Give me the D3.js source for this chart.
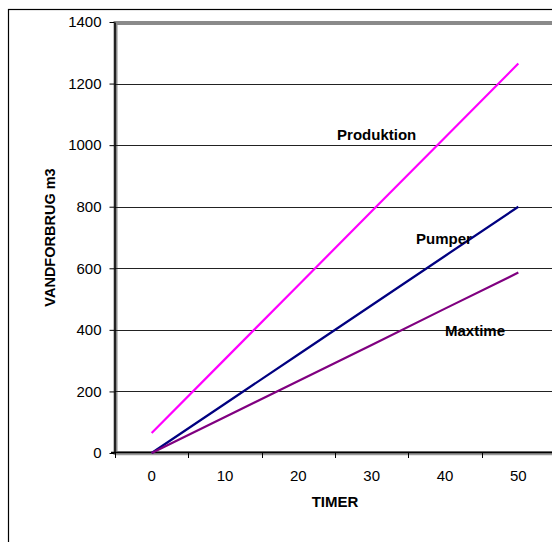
<!DOCTYPE html>
<html>
<head>
<meta charset="utf-8">
<script src="https://cdn.jsdelivr.net/npm/d3@7/dist/d3.min.js"></script>
<style>
  html, body { margin: 0; padding: 0; background: #fff; }
  svg { display: block; font-family: "Liberation Sans", Arial, sans-serif; }
</style>
</head>
<body>
<svg id="chart" width="552" height="542"></svg>
<script>
// Water consumption over hours
const hours = ["0", "10", "20", "30", "40", "50"];
const produktion = [65, 305, 545, 785, 1025, 1265];
const pumper = [0, 160, 320, 480, 640, 800];
const maxtime = [0, 117, 234, 351, 469, 586];
const yTicks = [0, 200, 400, 600, 800, 1000, 1200, 1400];

const seriesNames = ["Produktion", "Pumper", "Maxtime"];
const seriesValues = [produktion, pumper, maxtime];
const seriesColors = ["#ff00ff", "#000080", "#800080"];
// where each series name sits: a category, a value, and a small horizontal nudge
const labelPos = [
  { cat: "30", val: 1036, dx: 5 },
  { cat: "40", val: 698, dx: -1 },
  { cat: "40", val: 397, dx: 30 }
];

const svg = d3.select("#chart");
const plotLeft = 115, plotRight = 555, plotTop = 22, plotBottom = 453;
const fontSize = 15;

const x = d3.scaleBand().domain(hours).range([plotLeft, plotRight]).padding(0);
const y = d3.scaleLinear().domain([0, 1400]).range([plotBottom, plotTop]);

// outer chart frame
svg.append("rect")
  .attr("x", 8.5).attr("y", 9.5)
  .attr("width", 600).attr("height", 600)
  .attr("fill", "none").attr("stroke", "#000").attr("stroke-width", 1.2);

// plot area walls
svg.append("rect")
  .attr("x", plotLeft + 0.5).attr("y", plotTop + 1)
  .attr("width", plotRight - plotLeft).attr("height", plotBottom - plotTop - 1)
  .attr("fill", "none").attr("stroke", "#8a8a8a").attr("stroke-width", 4);

// gridlines
svg.append("g")
  .selectAll("line")
  .data(yTicks.filter(v => v > 0 && v < 1400))
  .join("line")
  .attr("x1", plotLeft).attr("x2", plotRight)
  .attr("y1", d => Math.round(y(d)) + 0.5).attr("y2", d => Math.round(y(d)) + 0.5)
  .attr("stroke", "#222").attr("stroke-width", 1);

// y axis
const yAxis = d3.axisLeft(y).tickValues(yTicks).tickFormat(d3.format("d"))
  .tickSize(5).tickSizeOuter(0).tickPadding(8);
const gy = svg.append("g").attr("transform", `translate(${plotLeft - 0.5},0)`).call(yAxis);
gy.attr("font-size", fontSize).attr("font-family", "Liberation Sans, Arial, sans-serif");
gy.select(".domain").attr("stroke", "#000").attr("stroke-width", 1.5);
gy.selectAll(".tick line").attr("stroke", "#000");
gy.selectAll(".tick text").attr("fill", "#000");

// x axis with ticks between categories
const xTickPos = hours.map(h => x(h)).concat([plotRight]);
const gx = svg.append("g");
gx.append("line")
  .attr("x1", plotLeft - 4).attr("x2", plotRight)
  .attr("y1", plotBottom - 0.5).attr("y2", plotBottom - 0.5)
  .attr("stroke", "#000").attr("stroke-width", 1.5);
gx.append("line")
  .attr("x1", plotLeft).attr("x2", plotRight)
  .attr("y1", plotBottom + 1.5).attr("y2", plotBottom + 1.5)
  .attr("stroke", "#9a9a9a").attr("stroke-width", 1.5);
gx.selectAll("line.tk")
  .data(xTickPos)
  .join("line").attr("class", "tk")
  .attr("x1", d => Math.round(d) + 0.5).attr("x2", d => Math.round(d) + 0.5)
  .attr("y1", plotBottom).attr("y2", plotBottom + 5)
  .attr("stroke", "#000");
gx.selectAll("text")
  .data(hours)
  .join("text")
  .attr("x", d => x(d) + x.bandwidth() / 2)
  .attr("y", 481)
  .attr("text-anchor", "middle")
  .attr("font-size", fontSize)
  .text(d => d);

// series lines
const line = d3.line()
  .x((d, i) => x(hours[i]) + x.bandwidth() / 2)
  .y(d => y(d));

svg.append("g")
  .selectAll("path")
  .data(seriesValues)
  .join("path")
  .attr("d", d => line(d))
  .attr("fill", "none")
  .attr("stroke", (d, i) => seriesColors[i])
  .attr("stroke-width", 2.2);

// series names
svg.append("g")
  .selectAll("text")
  .data(seriesNames)
  .join("text")
  .attr("x", (d, i) => x(labelPos[i].cat) + x.bandwidth() / 2 + labelPos[i].dx)
  .attr("y", (d, i) => y(labelPos[i].val))
  .attr("text-anchor", "middle")
  .attr("dominant-baseline", "central")
  .attr("font-size", fontSize)
  .attr("font-weight", "bold")
  .text(d => d);

// axis titles
svg.append("text")
  .attr("x", 335).attr("y", 507)
  .attr("text-anchor", "middle")
  .attr("font-size", fontSize).attr("font-weight", "bold")
  .text("TIMER");

svg.append("text")
  .attr("transform", `translate(55,${(plotTop + plotBottom) / 2}) rotate(-90)`)
  .attr("text-anchor", "middle")
  .attr("font-size", fontSize - 0.5).attr("font-weight", "bold")
  .text("VANDFORBRUG m3");
</script>
</body>
</html>
